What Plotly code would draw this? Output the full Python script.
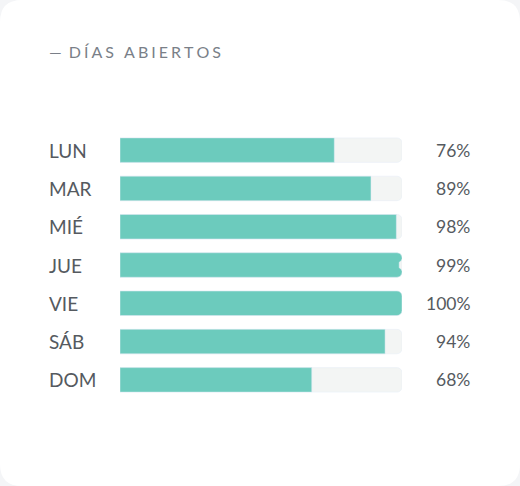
import plotly.graph_objects as go

days = ["LUN", "MAR", "MIÉ", "JUE", "VIE", "SÁB", "DOM"]
open_pct = [76, 89, 98, 99, 100, 94, 68]
full = [100] * len(days)

W, H = 520, 486
teal = "#6ccbbd"
track = "#f3f5f4"

fig = go.Figure()
fig.add_trace(go.Bar(y=days, x=full, orientation="h", marker=dict(color=track, cornerradius=5),
                     hoverinfo="skip"))
fig.add_trace(go.Bar(y=days, x=open_pct, orientation="h", marker=dict(color=teal, cornerradius=5)))

# day labels on the left, percentages on the right
for d, v in zip(days, open_pct):
    fig.add_annotation(x=47 / W, xref="paper", y=d, yref="y", text=d, showarrow=False,
                       xanchor="left", font=dict(family="Lato", size=19, color="#555a60"))
    fig.add_annotation(x=472 / W, xref="paper", y=d, yref="y", text=f"{v}%", showarrow=False,
                       xanchor="right", font=dict(family="Lato", size=17.5, color="#555a60"))

title = "\u2014\u2009\u200a " + "\u2009\u200a".join("DÍAS ABIERTOS")
fig.add_annotation(x=47 / W, xref="paper", y=1 - 52 / H, yref="paper", text=title, showarrow=False,
                   xanchor="left", yanchor="middle",
                   font=dict(family="Lato", size=16, color="#7a7f88"))

# card with rounded corners
r = 22
card = (f"M {r},0 L {W - r},0 Q {W},0 {W},{r} L {W},{H - r} Q {W},{H} {W - r},{H} "
        f"L {r},{H} Q 0,{H} 0,{H - r} L 0,{r} Q 0,0 {r},0 Z")
# convert pixel path to paper coords
def px_path(p):
    out = []
    toks = p.split()
    for t in toks:
        if "," in t:
            a, b = t.split(",")
            out.append(f"{float(a) / W:.5f},{1 - float(b) / H:.5f}")
        else:
            out.append(t)
    return " ".join(out)

fig.add_shape(type="path", xref="paper", yref="paper", path=px_path(card),
              fillcolor="white", line=dict(width=0), layer="below")

top, bottom = 131, 399
fig.update_layout(
    width=W, height=H, margin=dict(l=0, r=0, t=0, b=0),
    paper_bgcolor="#f4f5f7", plot_bgcolor="rgba(0,0,0,0)",
    barmode="overlay", bargap=0.36, showlegend=False,
    xaxis=dict(domain=[120 / W, 402 / W], range=[0, 100], visible=False, fixedrange=True),
    yaxis=dict(domain=[1 - bottom / H, 1 - top / H], autorange="reversed", visible=False,
               fixedrange=True),
)

fig.write_html("out.html", config={"displayModeBar": False},
               post_script="document.body.style.margin='0';document.body.style.overflow='hidden';")
